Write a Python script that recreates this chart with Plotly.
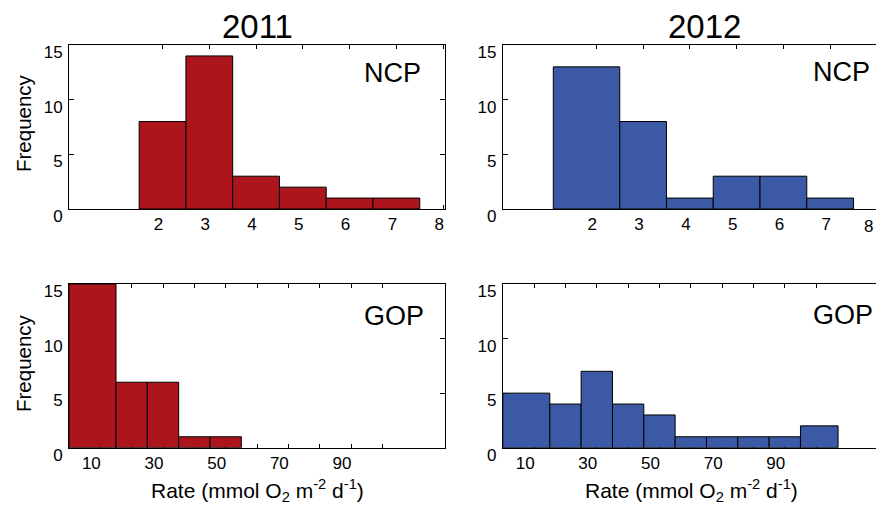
import plotly.graph_objects as go

W, H = 876, 508
FONT = "Liberation Sans, Arial, Helvetica, sans-serif"

# ---------------- data ----------------
years = ["2011", "2012"]
panel_labels = ["NCP", "GOP"]
xlabel = "Rate (mmol O<sub>2</sub> m<sup>-2</sup> d<sup>-1</sup>)"
ylabel = "Frequency"

ncp_ticks = [2, 3, 4, 5, 6, 7, 8]
gop_ticks = [10, 20, 30, 40, 50, 60, 70, 80, 90, 100]
gop_ticklabels = ["10", "", "30", "", "50", "", "70", "", "90", ""]
freq_ticks = [0, 5, 10, 15]

# bin edges and counts
ncp_2011_edges = [1.5, 2.5, 3.5, 4.5, 5.5, 6.5, 7.5]
ncp_2011_counts = [8, 14, 3, 2, 1, 1]

ncp_2012_edges = [1.08, 2.5, 3.5, 4.5, 5.5, 6.5, 7.5]
ncp_2012_counts = [13, 8, 1, 3, 3, 1]

gop_2011_edges = [0, 15, 25, 35, 45, 55]
gop_2011_counts = [15, 6, 6, 1, 1]

gop_2012_edges = [0, 15, 25, 35, 45, 55, 65, 75, 85, 95, 107]
gop_2012_counts = [5, 4, 7, 4, 3, 1, 1, 1, 1, 2]

RED = "#AC151C"
BLUE = "#3B59A5"


def px_x(p):
    return p / W


def px_y(p):
    return 1 - p / H


def bars(edges, counts, color, xa, ya):
    centers = [(a + b) / 2 for a, b in zip(edges[:-1], edges[1:])]
    widths = [b - a for a, b in zip(edges[:-1], edges[1:])]
    return go.Bar(
        x=centers, y=counts, width=widths,
        marker=dict(color=color, line=dict(color="black", width=1)),
        xaxis=xa, yaxis=ya, showlegend=False, hoverinfo="skip",
    )


fig = go.Figure()
fig.add_trace(bars(ncp_2011_edges, ncp_2011_counts, RED, "x", "y"))
fig.add_trace(bars(ncp_2012_edges, ncp_2012_counts, BLUE, "x2", "y2"))
fig.add_trace(bars(gop_2011_edges, gop_2011_counts, RED, "x3", "y3"))
fig.add_trace(bars(gop_2012_edges, gop_2012_counts, BLUE, "x4", "y4"))

L0, L1 = 69, 445
R0, R1 = 502.8, 875.5
T0, T1 = 45, 209
B0, B1 = 284, 447.7

ppu_ncp = (L1 - L0) / 8.04
ppu_gop = (L1 - L0) / 120.0

tickfont = dict(family=FONT, size=17, color="black")

common_x = dict(
    showline=True, linecolor="black", linewidth=1, ticks="inside", ticklen=4,
    tickcolor="black", tickwidth=1, showgrid=False, zeroline=False,
    layer="below traces", tickfont=tickfont, fixedrange=True,
)
common_y = dict(
    showline=True, linecolor="black", linewidth=1, ticks="inside", ticklen=5,
    tickcolor="black", tickwidth=1, showgrid=False, zeroline=False,
    layer="below traces", tickfont=tickfont, range=[0, 15],
    tickvals=freq_ticks, ticklabelshift=7, ticklabelstandoff=2, fixedrange=True,
)

# the figure fills the browser window (876 x 508); positions are fractions of it
fig.update_layout(
    autosize=True, margin=dict(l=0, r=0, t=0, b=0, autoexpand=False),
    paper_bgcolor="white", plot_bgcolor="white", barmode="overlay",
    font=dict(family=FONT, color="black"),
    xaxis=dict(common_x, domain=[px_x(L0), px_x(L1)], range=[0, 8.04],
               tickvals=ncp_ticks, anchor="y", mirror="ticks", ticklabelshift=-4),
    yaxis=dict(common_y, domain=[px_y(T1), px_y(T0)], anchor="x", mirror="ticks"),
    xaxis2=dict(common_x, domain=[px_x(R0), px_x(R1)],
                range=[0, (R1 - R0) / ppu_ncp],
                tickvals=ncp_ticks, anchor="y2", mirror="ticks", ticklabelshift=-4),
    yaxis2=dict(common_y, domain=[px_y(T1), px_y(T0)], anchor="x2", mirror=False),
    xaxis3=dict(common_x, domain=[px_x(L0), px_x(L1)], range=[0, 120],
                tickvals=gop_ticks, ticktext=gop_ticklabels, anchor="y3",
                mirror="ticks", ticklabelshift=-9),
    yaxis3=dict(common_y, domain=[px_y(B1), px_y(B0)], anchor="x3", mirror="ticks"),
    xaxis4=dict(common_x, domain=[px_x(R0), px_x(R1)],
                range=[0, (R1 - R0) / ppu_gop],
                tickvals=gop_ticks, ticktext=gop_ticklabels, anchor="y4",
                mirror="ticks", ticklabelshift=-9),
    yaxis4=dict(common_y, domain=[px_y(B1), px_y(B0)], anchor="x4", mirror=False),
)


def ann(text, x, y, size, angle=0):
    fig.add_annotation(
        text=text, x=px_x(x), y=px_y(y), xref="paper", yref="paper",
        xanchor="center", yanchor="middle", showarrow=False, textangle=angle,
        font=dict(family=FONT, size=size, color="black"),
    )


# titles
ann(years[0], 257, 26, 33)
ann(years[1], 704, 26, 33)
# panel labels
ann(panel_labels[0], 392, 73, 27)
ann(panel_labels[0], 841, 72, 27)
ann(panel_labels[1], 394, 316, 27)
ann(panel_labels[1], 843, 315, 27)
# axis labels
ann(ylabel, 23, 123, 20.5, -90)
ann(ylabel, 23, 363, 20.5, -90)
ann(xlabel, 257, 490, 21)
ann(xlabel, 691, 490, 21)
# last tick label of the right panel (kept inside the picture)
fig.add_annotation(
    text=str(ncp_ticks[-1]), x=1, y=px_y(226), xref="paper", yref="paper",
    xanchor="right", yanchor="middle", showarrow=False,
    font=dict(family=FONT, size=17, color="black"), xshift=-1,
)

PAGE_FIX = (
    "var s=document.documentElement.style;s.margin='0';s.padding='0';s.overflow='hidden';"
    "var b=document.body.style;b.margin='0';b.padding='0';b.overflow='hidden';"
    "Plotly.Plots.resize(document.getElementById('{plot_id}'));"
)

fig.write_html("out.html", default_width="100vw", default_height="100vh",
               post_script=PAGE_FIX)
